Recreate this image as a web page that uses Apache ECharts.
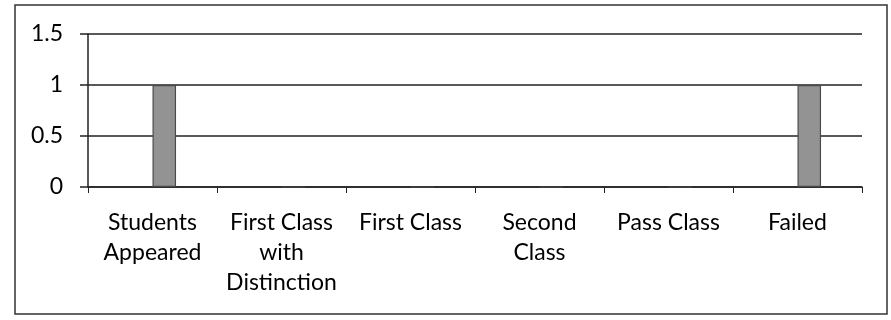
<!DOCTYPE html>
<html lang="en">
<head>
<meta charset="UTF-8">
<title>Result chart</title>
<script src="https://cdn.jsdelivr.net/npm/echarts@6/dist/echarts.min.js"></script>
<style>
  html, body { margin: 0; padding: 0; background: #ffffff; }
  #chart { width: 891px; height: 320px; }
</style>
</head>
<body>
<div id="chart"></div>
<script>
// categories and tick labels
let categories = ['Students Appeared', 'First Class with Distinction', 'First Class', 'Second Class', 'Pass Class', 'Failed'];
let tickLabels = ['Students\nAppeared', 'First Class\nwith\nDistinction', 'First Class', 'Second\nClass', 'Pass Class', 'Failed'];
let yTicks = [0, 0.5, 1, 1.5];

// the sheet had four series, only the third one holds values
let series1 = [0, 0, 0, 0, 0, 0];
let series2 = [0, 0, 0, 0, 0, 0];
let series3 = [1, 0, 0, 0, 0, 1];
let series4 = [0, 0, 0, 0, 0, 0];

const chart = echarts.init(document.getElementById('chart'));

const font = 'Lato, "Open Sans", sans-serif';

function barSeries(name, data, border) {
  return {
    name: name,
    type: 'bar',
    data: data,
    barGap: '0%',
    barCategoryGap: '27%',
    itemStyle: { color: '#939393', borderColor: '#4a4a4a', borderWidth: border ? 1.2 : 0 },
    silent: true
  };
}

chart.setOption({
  animation: false,
  backgroundColor: '#ffffff',
  graphic: [{
    type: 'rect',
    shape: { x: 15, y: 5, width: 872, height: 309 },
    style: { fill: 'none', stroke: '#333', lineWidth: 1.5 }
  }],
  grid: { left: 88, right: 29, top: 34, bottom: 133 },
  xAxis: {
    type: 'category',
    data: categories,
    axisLine: { lineStyle: { color: '#222', width: 1.5 } },
    axisTick: { show: true, length: 6, lineStyle: { color: '#222' } },
    axisLabel: {
      interval: 0,
      margin: 21,
      fontFamily: font,
      fontSize: 23,
      lineHeight: 30,
      color: '#000',
      formatter: function (v, i) { return tickLabels[i]; }
    }
  },
  yAxis: {
    type: 'value',
    min: yTicks[0],
    max: yTicks[yTicks.length - 1],
    interval: 0.5,
    axisLine: { show: true, lineStyle: { color: '#222', width: 1.5 } },
    axisTick: { show: true, length: 8, lineStyle: { color: '#222', width: 1.5 } },
    splitLine: { lineStyle: { color: '#222', width: 1.5 } },
    axisLabel: { margin: 25, fontFamily: font, fontSize: 23, color: '#000' }
  },
  series: [
    barSeries('Series1', series1, false),
    barSeries('Series2', series2, false),
    barSeries('Series3', series3, true),
    barSeries('Series4', series4, false)
  ]
});
</script>
</body>
</html>
